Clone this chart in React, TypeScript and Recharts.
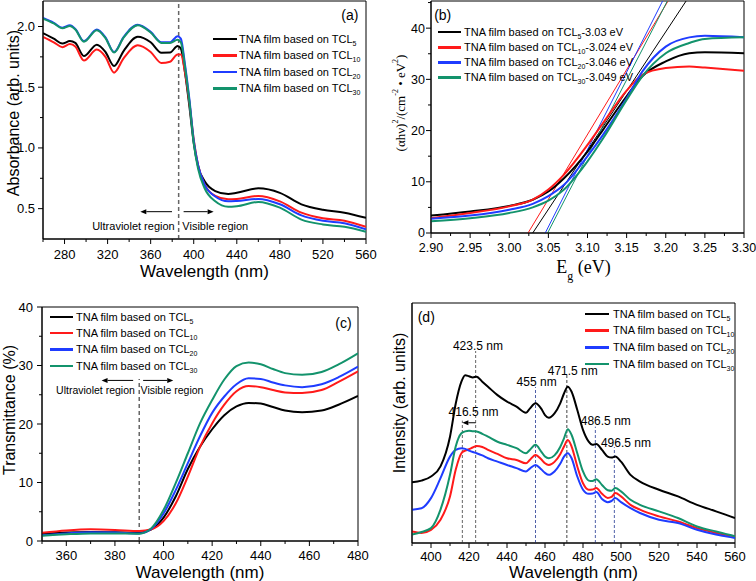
import React from "react"
import { LineChart, Line, XAxis, YAxis, ReferenceLine, ReferenceArea, ReferenceDot, Label } from "recharts"

const SANS = "'Liberation Sans', Arial, Helvetica, sans-serif"
const SERIF = "'Liberation Serif', 'Times New Roman', serif"

const seriesKeys = ["s5", "s10", "s20", "s30"]
const seriesSubs = ["5", "10", "20", "30"]
const seriesColors = ["#000000", "#ff1a1a", "#1f3cff", "#13936c"]

// (a) absorbance
const absWavelength = [260, 270, 278, 285, 290, 298, 310, 318, 326, 335, 348, 360, 370, 378, 385, 388, 392, 396, 400, 404, 410, 420, 432, 440, 460, 480, 500, 520, 540, 560]
const absTCL5 = [1.945, 1.9, 1.86, 1.88, 1.865, 1.757, 1.85, 1.79, 1.675, 1.8, 1.915, 1.87, 1.784, 1.785, 1.84, 1.82, 1.615, 1.34, 1.04, 0.85, 0.727, 0.645, 0.62, 0.63, 0.667, 0.63, 0.535, 0.49, 0.467, 0.424]
const absTCL10 = [1.915, 1.87, 1.83, 1.855, 1.835, 1.72, 1.81, 1.75, 1.62, 1.74, 1.845, 1.79, 1.7, 1.71, 1.77, 1.77, 1.615, 1.37, 1.07, 0.86, 0.7, 0.605, 0.577, 0.58, 0.604, 0.56, 0.467, 0.42, 0.4, 0.35]
const absTCL20 = [2.07, 2.03, 1.99, 2.01, 1.98, 1.88, 1.975, 1.91, 1.79, 1.915, 2.015, 1.956, 1.87, 1.87, 1.92, 1.9, 1.68, 1.4, 1.06, 0.86, 0.7, 0.6, 0.56, 0.563, 0.58, 0.536, 0.445, 0.4, 0.38, 0.33]
const absTCL30 = [2.065, 2.025, 1.985, 2.005, 1.975, 1.875, 1.97, 1.905, 1.785, 1.91, 2.01, 1.95, 1.865, 1.865, 1.89, 1.87, 1.66, 1.38, 1.04, 0.83, 0.67, 0.56, 0.515, 0.52, 0.555, 0.508, 0.41, 0.37, 0.35, 0.31]
const absTicksX = [260, 280, 300, 320, 340, 360, 380, 400, 420, 440, 460, 480, 500, 520, 540, 560]
const absTicksY = [0.5, 0.75, 1.0, 1.25, 1.5, 1.75, 2.0]

// (b) Tauc plot
const egEnergy = [2.9, 2.95, 3.0, 3.03, 3.05, 3.07, 3.1, 3.12, 3.15, 3.17, 3.2, 3.23, 3.25, 3.3]
const egTCL5 = [3.4, 4.2, 5.3, 6.5, 8.1, 10.7, 15.9, 20.2, 26.7, 30.6, 33.5, 35.1, 35.3, 35.1]
const egTCL10 = [2.9, 3.9, 5.2, 6.5, 8.5, 11.4, 17.2, 21.5, 27.8, 30.9, 32.2, 32.5, 32.3, 31.7]
const egTCL20 = [2.8, 3.4, 4.55, 5.7, 7.2, 9.4, 15.0, 19.2, 26.3, 31.5, 36.4, 38.2, 38.5, 38.2]
const egTCL30 = [2.3, 2.9, 3.9, 5.0, 6.3, 8.5, 14.0, 18.5, 26.0, 30.6, 35.1, 37.1, 37.9, 38.2]
const egBandGap = ["3.03", "3.024", "3.046", "3.049"]
const tangentStart = [3.03, 3.024, 3.046, 3.049]
const tangentEnd = [3.226, 3.203, 3.196, 3.202]
const egTop = 45.3
const egTicksX = [2.9, 2.925, 2.95, 2.975, 3.0, 3.025, 3.05, 3.075, 3.1, 3.125, 3.15, 3.175, 3.2, 3.225, 3.25, 3.275, 3.3]
const egTicksY = [0, 5, 10, 15, 20, 25, 30, 35, 40, 45]

// (c) transmittance
const transWavelength = [350, 360, 370, 380, 390, 395, 400, 405, 410, 415, 420, 425, 430, 435, 440, 445, 450, 457, 465, 472, 480]
const transTCL5 = [1.2, 1.45, 1.55, 1.5, 1.4, 2.0, 4.0, 7.6, 12.3, 16.1, 19.1, 21.5, 23.0, 23.6, 23.5, 22.9, 22.3, 22.0, 22.3, 23.3, 24.8]
const transTCL10 = [1.4, 1.8, 2.0, 1.9, 1.7, 2.0, 3.4, 6.4, 11.0, 16.1, 20.1, 23.3, 25.6, 26.5, 26.3, 25.8, 25.4, 25.3, 25.8, 27.2, 29.0]
const transTCL20 = [1.0, 1.3, 1.5, 1.45, 1.3, 2.1, 4.7, 8.7, 13.3, 17.9, 21.9, 24.7, 26.8, 27.8, 27.7, 27.1, 26.6, 26.3, 26.8, 28.0, 29.8]
const transTCL30 = [0.9, 1.15, 1.3, 1.3, 1.25, 2.2, 5.3, 9.9, 15.0, 20.1, 24.1, 27.6, 29.9, 30.5, 30.2, 29.4, 28.7, 28.4, 28.9, 30.2, 32.1]
const transTicksX = [350, 360, 370, 380, 390, 400, 410, 420, 430, 440, 450, 460, 470, 480]
const transTicksY = [0, 5, 10, 15, 20, 25, 30, 35, 40]

// (d) photoluminescence (arb. units)
const plWavelength = [390, 395, 400, 405, 410, 413, 416, 418, 420, 422, 424, 427, 430, 435, 440, 445, 450, 452, 455, 458, 460, 462, 465, 468, 470, 472, 474, 477, 480, 483, 485, 487, 490, 493, 495, 497, 500, 505, 510, 520, 530, 540, 550, 555, 560]
const plTCL5 = [25.3, 26, 27.7, 31.9, 44.3, 58, 67.2, 69.9, 69.5, 69, 69.3, 67.2, 65.1, 61.6, 58.9, 56.8, 54.3, 56, 58.2, 56, 53.3, 52.2, 54, 58.2, 62.3, 65.1, 63, 55.4, 47.1, 42.2, 40.9, 41.3, 38.8, 36, 35.6, 36, 33.9, 28.4, 25.6, 22.2, 19.4, 15.9, 13.2, 11.8, 10.4]
const plTCL10 = [4.8, 4.2, 5.5, 9.7, 19.4, 30.5, 37.4, 38.5, 39.1, 39.8, 40.4, 40, 38.8, 37.1, 35.3, 34.6, 33.2, 34.6, 36.7, 34.9, 33.2, 32.5, 33.8, 37, 40.2, 42.9, 40.2, 31.9, 24.9, 22.2, 22.3, 22.9, 20.5, 18.8, 19.2, 20.8, 19.4, 15.9, 13.9, 11.1, 9, 6.2, 4.2, 3.4, 2.8]
const plTCL20 = [13.9, 14.5, 18.7, 27, 36, 38.8, 39.5, 39.2, 38.5, 37.9, 37.4, 36.5, 35.3, 33.9, 32.5, 31.2, 29.8, 31, 32.5, 30.7, 29.2, 28.4, 29.8, 33, 36, 37.4, 35.3, 27.7, 22.2, 20.5, 20.6, 21.2, 18.3, 17, 17.5, 18.7, 17, 14.5, 12.5, 9.7, 8.3, 5.5, 3.5, 2.8, 2.1]
const plTCL30 = [3.5, 4.6, 6.2, 13.9, 28.4, 40.2, 45.7, 46.5, 46.8, 46.6, 46.5, 45.5, 44.3, 42.2, 40.9, 39.5, 37.4, 38.8, 40.9, 38.1, 36, 35.3, 36.5, 40, 43.6, 47.4, 45, 37.4, 29.8, 26, 25.8, 26.6, 24.2, 22, 21.8, 22.9, 21.5, 18, 15.9, 13.2, 10.4, 6.9, 4.8, 3.8, 2.8]
const plTicksX = [390, 400, 410, 420, 430, 440, 450, 460, 470, 480, 490, 500, 510, 520, 530, 540, 550, 560]
const plPeaks = ["416.5", "423.5", "455", "471.5", "486.5", "496.5"]

function buildRows(xs: number[], cols: number[][]) {
  return xs.map((x, i) => {
    const row: Record<string, number> = { x }
    seriesKeys.forEach((k, j) => (row[k] = cols[j][i]))
    return row
  })
}

const absRows = buildRows(absWavelength, [absTCL5, absTCL10, absTCL20, absTCL30])
const egRows = buildRows(egEnergy, [egTCL5, egTCL10, egTCL20, egTCL30])
const transRows = buildRows(transWavelength, [transTCL5, transTCL10, transTCL20, transTCL30])
const plRows = buildRows(plWavelength, [plTCL5, plTCL10, plTCL20, plTCL30])

function bottomTick(isMajor: (v: number) => boolean, fmt: (v: number) => string, font: string, size: number, dy: number) {
  return (p: any) => {
    const v = p.payload.value
    const major = isMajor(v)
    return (
      <g>
        <line x1={p.x} x2={p.x} y1={p.y} y2={p.y + (major ? 5 : 3)} stroke="#000" />
        {major ? (
          <text x={p.x} y={p.y + dy} textAnchor="middle" fontFamily={font} fontSize={size} fill="#000">
            {fmt(v)}
          </text>
        ) : null}
      </g>
    )
  }
}

function leftTick(isMajor: (v: number) => boolean, fmt: (v: number) => string, font: string, size: number, gap: number) {
  return (p: any) => {
    const v = p.payload.value
    const major = isMajor(v)
    return (
      <g>
        <line x1={p.x} x2={p.x - (major ? 5 : 3)} y1={p.y} y2={p.y} stroke="#000" />
        {major ? (
          <text x={p.x - gap} y={p.y} dy="0.35em" textAnchor="end" fontFamily={font} fontSize={size} fill="#000">
            {fmt(v)}
          </text>
        ) : null}
      </g>
    )
  }
}

function Arrow(props: any) {
  const { x1, y1, x2, y2 } = props
  const ang = Math.atan2(y2 - y1, x2 - x1)
  const L = 6
  const W = 2.5
  const bx = x2 - L * Math.cos(ang)
  const by = y2 - L * Math.sin(ang)
  const pts = `${x2},${y2} ${bx - W * Math.sin(ang)},${by + W * Math.cos(ang)} ${bx + W * Math.sin(ang)},${by - W * Math.cos(ang)}`
  return (
    <g>
      <line x1={x1} y1={y1} x2={bx} y2={by} stroke="#000" strokeWidth={1} />
      <polygon points={pts} fill="#000" />
    </g>
  )
}

function LegendBox({ left, top, lineW, gap, rowH, suffixes }: { left: number; top: number; lineW: number; gap: number; rowH: number; suffixes?: string[] }) {
  return (
    <div style={{ position: "absolute", left, top, fontFamily: SANS, fontSize: 11, color: "#000" }}>
      {seriesColors.map((c, i) => (
        <div key={i} style={{ display: "flex", alignItems: "center", height: rowH, whiteSpace: "nowrap", lineHeight: `${rowH}px` }}>
          <span style={{ display: "inline-block", width: lineW, height: 2.5, background: c, marginRight: gap }} />
          <span>
            TNA film based on TCL
            <sub style={{ fontSize: 7, verticalAlign: -3, lineHeight: 0 }}>{seriesSubs[i]}</sub>
            {suffixes ? suffixes[i] : ""}
          </span>
        </div>
      ))}
    </div>
  )
}

const textLabel = (value: string, size = 11, font = SANS) => ({ value, position: "center" as const, fontSize: size, fill: "#000", fontFamily: font })

function PanelA() {
  return (
    <div style={{ position: "absolute", left: 0, top: 0 }}>
      <LineChart width={380} height={290} data={absRows} margin={{ top: 1, right: 14, bottom: 0, left: 0 }}>
        <XAxis dataKey="x" type="number" domain={[260, 560]} ticks={absTicksX} interval={0} height={51} tickLine={false} tickSize={0} tickMargin={0} axisLine={{ stroke: "#000" }} allowDataOverflow tick={bottomTick((v) => (v - 280) % 40 === 0, (v) => String(v), SANS, 13, 19.5)}>
          <Label value="Wavelength (nm)" content={(p: any) => (
            <text x={p.viewBox.x + p.viewBox.width / 2} y={p.viewBox.y + 37.5} textAnchor="middle" fontFamily={SANS} fontSize={17} fill="#000">Wavelength (nm)</text>
          )} />
        </XAxis>
        <YAxis type="number" domain={[0.25, 2.21]} ticks={absTicksY} interval={0} width={43} tickLine={false} tickSize={0} tickMargin={0} axisLine={{ stroke: "#000" }} allowDataOverflow tick={leftTick((v) => Math.round(v * 100) % 50 === 0, (v) => v.toFixed(1), SANS, 13, 8)}>
          <Label value="Absorbance (arb. units)" content={(p: any) => {
            const cx = p.viewBox.x + 13
            const cy = p.viewBox.y + p.viewBox.height / 2 - 7
            return <text x={cx} y={cy} transform={`rotate(-90 ${cx} ${cy})`} textAnchor="middle" dominantBaseline="central" fontFamily={SANS} fontSize={16} fill="#000">Absorbance (arb. units)</text>
          }} />
        </YAxis>
        <ReferenceArea x1={260} x2={560} y1={0.25} y2={2.21} fill="none" stroke="#000" strokeWidth={1} />
        <ReferenceLine x={386} stroke="#666" strokeDasharray="4 3" strokeWidth={1.5} />
        <ReferenceLine segment={[{ x: 379.8, y: 0.475 }, { x: 350.4, y: 0.475 }]} shape={(p: any) => <Arrow {...p} />} />
        <ReferenceLine segment={[{ x: 390.6, y: 0.475 }, { x: 418.5, y: 0.475 }]} shape={(p: any) => <Arrow {...p} />} />
        <ReferenceDot x={344} y={0.358} r={0} fill="none" stroke="none" label={textLabel("Ultraviolet region")} />
        <ReferenceDot x={420} y={0.358} r={0} fill="none" stroke="none" label={textLabel("Visible region")} />
        <ReferenceDot x={545} y={2.093} r={0} fill="none" stroke="none" label={textLabel("(a)", 14)} />
        {seriesKeys.map((k, i) => (
          <Line key={k} dataKey={k} type="monotone" stroke={seriesColors[i]} strokeWidth={2} dot={false} isAnimationActive={false} />
        ))}
      </LineChart>
      <LegendBox left={213} top={31} lineW={24} gap={2} rowH={16.4} />
    </div>
  )
}

function PanelB() {
  return (
    <div style={{ position: "absolute", left: 376, top: 0 }}>
      <LineChart width={380} height={290} data={egRows} margin={{ top: 1, right: 12, bottom: 0, left: 0 }}>
        <XAxis dataKey="x" type="number" domain={[2.9, 3.3]} ticks={egTicksX} interval={0} height={57} tickLine={false} tickSize={0} tickMargin={0} axisLine={{ stroke: "#000" }} allowDataOverflow tick={bottomTick((v) => Math.round(v * 1000) % 50 === 0, (v) => v.toFixed(2), SANS, 12.5, 18.5)}>
          <Label value="Eg (eV)" content={(p: any) => (
            <text x={p.viewBox.x + p.viewBox.width / 2 - 4} y={p.viewBox.y + 40} textAnchor="middle" fontFamily={SERIF} fontSize={18} fill="#000">
              E<tspan baselineShift="sub" fontSize={12}>g</tspan> (eV)
            </text>
          )} />
        </XAxis>
        <YAxis type="number" domain={[0, egTop]} ticks={egTicksY} interval={0} width={55} tickLine={false} tickSize={0} tickMargin={0} axisLine={{ stroke: "#000" }} allowDataOverflow tick={leftTick((v) => v % 10 === 0, (v) => String(v), SANS, 12.5, 6)}>
          <Label value="(αhν)2/(cm-2 • eV2)" content={(p: any) => {
            const cx = p.viewBox.x + 24
            const cy = p.viewBox.y + p.viewBox.height / 2 - 14
            return (
              <text x={cx} y={cy} transform={`rotate(-90 ${cx} ${cy})`} textAnchor="middle" dominantBaseline="central" fontFamily={SERIF} fontSize={13} fill="#000">
                (αhν)<tspan baselineShift="super" fontSize={8}>2</tspan>/(cm<tspan baselineShift="super" fontSize={8}>-2</tspan> • eV<tspan baselineShift="super" fontSize={8}>2</tspan>)
              </text>
            )
          }} />
        </YAxis>
        <ReferenceArea x1={2.9} x2={3.3} y1={0} y2={egTop} fill="none" stroke="#000" strokeWidth={1} />
        <ReferenceDot x={2.915} y={42.6} r={0} fill="none" stroke="none" label={textLabel("(b)", 14)} />
        {seriesKeys.map((k, i) => (
          <Line key={`t-${k}`} data={[{ x: tangentStart[i], v: 0 }, { x: tangentEnd[i], v: egTop }]} dataKey="v" type="linear" stroke={seriesColors[i]} strokeWidth={1} dot={false} isAnimationActive={false} />
        ))}
        {seriesKeys.map((k, i) => (
          <Line key={k} dataKey={k} type="monotone" stroke={seriesColors[i]} strokeWidth={2} dot={false} isAnimationActive={false} />
        ))}
      </LineChart>
      <LegendBox left={62} top={24.5} lineW={23} gap={3} rowH={15.2} suffixes={egBandGap.map((g) => `-${g} eV`)} />
    </div>
  )
}

function PanelC() {
  return (
    <div style={{ position: "absolute", left: 0, top: 290 }}>
      <LineChart width={380} height={291} data={transRows} margin={{ top: 17, right: 22, bottom: 0, left: 0 }}>
        <XAxis dataKey="x" type="number" domain={[350, 480]} ticks={transTicksX} interval={0} height={40} tickLine={false} tickSize={0} tickMargin={0} axisLine={{ stroke: "#000" }} allowDataOverflow tick={bottomTick((v) => (v - 360) % 20 === 0, (v) => String(v), SANS, 13, 18.5)}>
          <Label value="Wavelength (nm)" content={(p: any) => (
            <text x={p.viewBox.x + p.viewBox.width / 2} y={p.viewBox.y + 37} textAnchor="middle" fontFamily={SANS} fontSize={17} fill="#000">Wavelength (nm)</text>
          )} />
        </XAxis>
        <YAxis type="number" domain={[0, 40]} ticks={transTicksY} interval={0} width={42} tickLine={false} tickSize={0} tickMargin={0} axisLine={{ stroke: "#000" }} allowDataOverflow tick={leftTick((v) => v % 10 === 0, (v) => String(v), SANS, 13, 9)}>
          <Label value="Transmittance (%)" content={(p: any) => {
            const cx = p.viewBox.x + 9
            const cy = p.viewBox.y + p.viewBox.height / 2 - 14
            return <text x={cx} y={cy} transform={`rotate(-90 ${cx} ${cy})`} textAnchor="middle" dominantBaseline="central" fontFamily={SANS} fontSize={16} fill="#000">Transmittance (%)</text>
          }} />
        </YAxis>
        <ReferenceArea x1={350} x2={480} y1={0} y2={40} fill="none" stroke="#000" strokeWidth={1} />
        <ReferenceLine segment={[{ x: 390, y: 0 }, { x: 390, y: 27.7 }]} stroke="#666" strokeDasharray="4 3" strokeWidth={1.5} />
        <ReferenceLine segment={[{ x: 387.5, y: 27.45 }, { x: 374.5, y: 27.45 }]} shape={(p: any) => <Arrow {...p} />} />
        <ReferenceLine segment={[{ x: 391.6, y: 27.45 }, { x: 404, y: 27.45 }]} shape={(p: any) => <Arrow {...p} />} />
        <ReferenceDot x={372} y={25.85} r={0} fill="none" stroke="none" label={textLabel("Ultraviolet region", 10.5)} />
        <ReferenceDot x={403.5} y={25.85} r={0} fill="none" stroke="none" label={textLabel("Visible region", 10.5)} />
        <ReferenceDot x={474} y={37.3} r={0} fill="none" stroke="none" label={textLabel("(c)", 14)} />
        {seriesKeys.map((k, i) => (
          <Line key={k} dataKey={k} type="monotone" stroke={seriesColors[i]} strokeWidth={2} dot={false} isAnimationActive={false} />
        ))}
      </LineChart>
      <LegendBox left={50} top={18.8} lineW={23} gap={3} rowH={16.3} />
    </div>
  )
}

function PanelD() {
  const peakLine = (x: number, top: number, color: string) => (
    <ReferenceLine key={`p${x}`} segment={[{ x, y: 0 }, { x, y: top }]} stroke={color} strokeDasharray="3 2" strokeWidth={1} />
  )
  return (
    <div style={{ position: "absolute", left: 376, top: 290 }}>
      <LineChart width={380} height={291} data={plRows} margin={{ top: 13, right: 21, bottom: 0, left: 0 }}>
        <XAxis dataKey="x" type="number" domain={[390, 560]} ticks={plTicksX} interval={0} height={38} tickLine={false} tickSize={0} tickMargin={0} axisLine={{ stroke: "#000" }} allowDataOverflow tick={bottomTick((v) => (v - 400) % 20 === 0, (v) => String(v), SANS, 13, 18)}>
          <Label value="Wavelength (nm)" content={(p: any) => (
            <text x={p.viewBox.x + p.viewBox.width / 2} y={p.viewBox.y + 35} textAnchor="middle" fontFamily={SANS} fontSize={17} fill="#000">Wavelength (nm)</text>
          )} />
        </XAxis>
        <YAxis type="number" domain={[0, 100]} width={36} tick={false} tickLine={false} axisLine={{ stroke: "#000" }} allowDataOverflow>
          <Label value="Intensity (arb. units)" content={(p: any) => {
            const cx = p.viewBox.x + 23
            const cy = p.viewBox.y + p.viewBox.height / 2 - 20
            return <text x={cx} y={cy} transform={`rotate(-90 ${cx} ${cy})`} textAnchor="middle" dominantBaseline="central" fontFamily={SANS} fontSize={16} fill="#000">Intensity (arb. units)</text>
          }} />
        </YAxis>
        <ReferenceArea x1={390} x2={560} y1={0} y2={100} fill="none" stroke="#000" strokeWidth={1} />
        {peakLine(Number(plPeaks[0]), 51, "#666")}
        {peakLine(Number(plPeaks[1]), 80, "#666")}
        {peakLine(Number(plPeaks[2]), 65, "#5060a8")}
        {peakLine(Number(plPeaks[3]), 70, "#444")}
        {peakLine(Number(plPeaks[4]), 48.5, "#5060a8")}
        {peakLine(Number(plPeaks[5]), 40, "#5060a8")}
        <ReferenceLine segment={[{ x: 423.5, y: 50.1 }, { x: 416.5, y: 50.1 }]} shape={(p: any) => <Arrow {...p} />} />
        <ReferenceDot x={422.4} y={54.7} r={0} fill="none" stroke="none" label={textLabel(`${plPeaks[0]} nm`, 12)} />
        <ReferenceDot x={424.7} y={82.4} r={0} fill="none" stroke="none" label={textLabel(`${plPeaks[1]} nm`, 12)} />
        <ReferenceDot x={455.6} y={67.2} r={0} fill="none" stroke="none" label={textLabel(`${plPeaks[2]} nm`, 12)} />
        <ReferenceDot x={474.6} y={71.6} r={0} fill="none" stroke="none" label={textLabel(`${plPeaks[3]} nm`, 12)} />
        <ReferenceDot x={492} y={51} r={0} fill="none" stroke="none" label={textLabel(`${plPeaks[4]} nm`, 12)} />
        <ReferenceDot x={502.6} y={41.8} r={0} fill="none" stroke="none" label={textLabel(`${plPeaks[5]} nm`, 12)} />
        <ReferenceDot x={397.5} y={94.2} r={0} fill="none" stroke="none" label={textLabel("(d)", 14)} />
        {seriesKeys.map((k, i) => (
          <Line key={k} dataKey={k} type="monotone" stroke={seriesColors[i]} strokeWidth={2} dot={false} isAnimationActive={false} />
        ))}
      </LineChart>
      <LegendBox left={209} top={15.6} lineW={24} gap={4} rowH={16.7} />
    </div>
  )
}

export default function App() {
  return (
    <div style={{ position: "absolute", left: 0, top: 0, width: 756, height: 581, background: "#fff" }}>
      <PanelA />
      <PanelB />
      <PanelC />
      <PanelD />
    </div>
  )
}
